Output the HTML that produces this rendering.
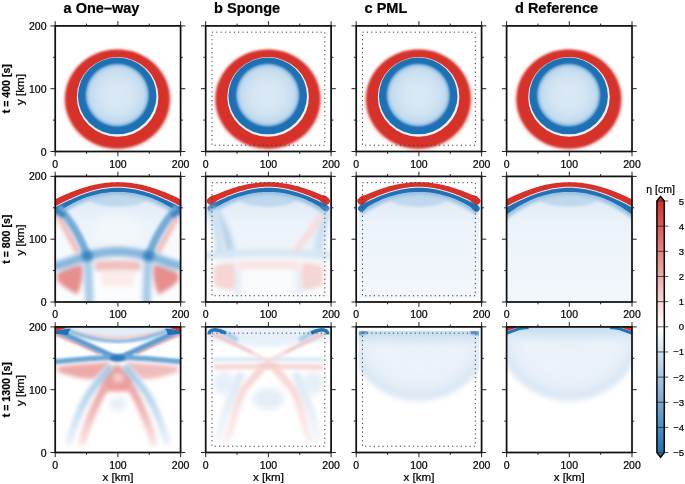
<!DOCTYPE html>
<html><head><meta charset="utf-8"><style>
html,body{margin:0;padding:0;background:#fff;width:685px;height:484px;overflow:hidden;}
svg{display:block;will-change:transform;}
</style></head><body>
<svg width="685" height="484" viewBox="0 0 685 484">
<defs>
<filter id="b03" x="-20%" y="-20%" width="140%" height="140%"><feGaussianBlur stdDeviation="0.35"/></filter>
<filter id="b09" x="-20%" y="-20%" width="140%" height="140%"><feGaussianBlur stdDeviation="0.9"/></filter>
<filter id="b13" x="-20%" y="-20%" width="140%" height="140%"><feGaussianBlur stdDeviation="1.3"/></filter>
<filter id="b05" x="-20%" y="-20%" width="140%" height="140%"><feGaussianBlur stdDeviation="0.55"/></filter>
<filter id="b1" x="-20%" y="-20%" width="140%" height="140%"><feGaussianBlur stdDeviation="1.0"/></filter>
<filter id="b12" x="-30%" y="-30%" width="160%" height="160%"><feGaussianBlur stdDeviation="1.2"/></filter>
<filter id="b15" x="-30%" y="-30%" width="160%" height="160%"><feGaussianBlur stdDeviation="1.5"/></filter>
<filter id="b17" x="-30%" y="-30%" width="160%" height="160%"><feGaussianBlur stdDeviation="1.7"/></filter>
<filter id="b2" x="-30%" y="-30%" width="160%" height="160%"><feGaussianBlur stdDeviation="2.0"/></filter>
<filter id="b3" x="-30%" y="-30%" width="160%" height="160%"><feGaussianBlur stdDeviation="3.0"/></filter>
<filter id="b5" x="-50%" y="-50%" width="200%" height="200%"><feGaussianBlur stdDeviation="5.0"/></filter>
<radialGradient id="ring" cx="0.5" cy="0.5" r="0.5">
  <stop offset="0" stop-color="#d9e8f4"/>
  <stop offset="0.30" stop-color="#d2e3f1"/>
  <stop offset="0.46" stop-color="#b3d1e8"/>
  <stop offset="0.55" stop-color="#5d9cce"/>
  <stop offset="0.60" stop-color="#2473b6"/>
  <stop offset="0.71" stop-color="#1f70b4"/>
  <stop offset="0.728" stop-color="#f4f4f4"/>
  <stop offset="0.745" stop-color="#d7302a"/>
  <stop offset="0.90" stop-color="#d7302a"/>
  <stop offset="0.95" stop-color="#eea29b"/>
  <stop offset="1" stop-color="#ffffff" stop-opacity="0"/>
</radialGradient>
<radialGradient id="inner1" cx="0.5" cy="0.5" r="0.5">
  <stop offset="0" stop-color="#dbe9f5"/>
  <stop offset="0.5" stop-color="#d4e5f2"/>
  <stop offset="0.8" stop-color="#c3dbef"/>
  <stop offset="0.88" stop-color="#a6cae7"/>
  <stop offset="0.93" stop-color="#6aa3d3"/>
  <stop offset="0.97" stop-color="#2a77b8"/>
  <stop offset="1" stop-color="#2171b5"/>
</radialGradient>
<linearGradient id="interior" gradientUnits="userSpaceOnUse" x1="0" y1="10" x2="0" y2="126">
  <stop offset="0" stop-color="#d4e5f3"/>
  <stop offset="0.13" stop-color="#e2ecf7"/>
  <stop offset="0.35" stop-color="#ecf3fa"/>
  <stop offset="1" stop-color="#f2f7fb"/>
</linearGradient>
<linearGradient id="redfade" x1="0" y1="0" x2="0" y2="1">
  <stop offset="0" stop-color="#eca3a2"/><stop offset="0.5" stop-color="#f1bcbb"/><stop offset="1" stop-color="#fae8e8"/>
</linearGradient>
<linearGradient id="bluefade" x1="0" y1="0" x2="0" y2="1">
  <stop offset="0" stop-color="#9fc7e6"/><stop offset="0.5" stop-color="#bfd9ee"/><stop offset="1" stop-color="#eaf2f9"/>
</linearGradient>
<linearGradient id="redfade2" x1="0" y1="0" x2="0" y2="1">
  <stop offset="0" stop-color="#f5d0cf"/><stop offset="0.5" stop-color="#f8dedd"/><stop offset="1" stop-color="#fcf1f1"/>
</linearGradient>
<linearGradient id="bluefade2" x1="0" y1="0" x2="0" y2="1">
  <stop offset="0" stop-color="#dbe9f5"/><stop offset="0.5" stop-color="#e4eef8"/><stop offset="1" stop-color="#f4f8fc"/>
</linearGradient>
<radialGradient id="bowl" cx="0.5" cy="0.5" r="0.5">
  <stop offset="0" stop-color="#e6eff8"/>
  <stop offset="0.55" stop-color="#edf3fa"/>
  <stop offset="0.78" stop-color="#e6eff8"/>
  <stop offset="0.9" stop-color="#d9e7f4"/>
  <stop offset="0.96" stop-color="#e6eff8"/>
  <stop offset="1" stop-color="#ffffff" stop-opacity="0"/>
</radialGradient>
<linearGradient id="topstrip" x1="0" y1="0" x2="0" y2="1">
  <stop offset="0" stop-color="#c6dcef"/>
  <stop offset="0.35" stop-color="#cfe2f1"/>
  <stop offset="1" stop-color="#e4eef7" stop-opacity="0"/>
</linearGradient>
<linearGradient id="interior3" x1="0" y1="0" x2="0" y2="1">
  <stop offset="0" stop-color="#e9f2f9"/>
  <stop offset="1" stop-color="#e6f0f8"/>
</linearGradient>
<clipPath id="cp00"><rect x="55.2" y="25.9" width="125.4" height="125.6"/></clipPath><clipPath id="cp01"><rect x="205.7" y="25.9" width="125.4" height="125.6"/></clipPath><clipPath id="cp02"><rect x="356.2" y="25.9" width="125.4" height="125.6"/></clipPath><clipPath id="cp03"><rect x="506.6" y="25.9" width="125.4" height="125.6"/></clipPath><clipPath id="cp10"><rect x="55.2" y="176.4" width="125.4" height="125.6"/></clipPath><clipPath id="cp11"><rect x="205.7" y="176.4" width="125.4" height="125.6"/></clipPath><clipPath id="cp12"><rect x="356.2" y="176.4" width="125.4" height="125.6"/></clipPath><clipPath id="cp13"><rect x="506.6" y="176.4" width="125.4" height="125.6"/></clipPath><clipPath id="cp20"><rect x="55.2" y="326.9" width="125.4" height="125.6"/></clipPath><clipPath id="cp21"><rect x="205.7" y="326.9" width="125.4" height="125.6"/></clipPath><clipPath id="cp22"><rect x="356.2" y="326.9" width="125.4" height="125.6"/></clipPath><clipPath id="cp23"><rect x="506.6" y="326.9" width="125.4" height="125.6"/></clipPath><clipPath id="cppml"><rect x="2.6" y="3.8" width="120.2" height="118.0"/></clipPath><clipPath id="cprel"><rect x="6.27" y="6.27" width="112.86000000000001" height="113.06"/></clipPath><clipPath id="cpi0"><rect x="362.46999999999997" y="32.17" width="112.86000000000001" height="113.06"/></clipPath><clipPath id="cpi1"><rect x="362.46999999999997" y="182.67000000000002" width="112.86000000000001" height="113.06"/></clipPath><clipPath id="cpi2"><rect x="362.46999999999997" y="333.16999999999996" width="112.86000000000001" height="113.06"/></clipPath><linearGradient id="cbg" x1="0" y1="0" x2="0" y2="1"><stop offset="0" stop-color="#d7302a"/><stop offset="0.5" stop-color="#ffffff"/><stop offset="1" stop-color="#2171b5"/></linearGradient></defs>
<rect width="685" height="484" fill="#fff"/>
<g clip-path="url(#cp00)"><g><g transform="translate(55.2,25.9)"><ellipse cx="62.2" cy="74.0" rx="52.2" ry="48.6" fill="#e47d77" filter="url(#b2)" opacity="0.8"/>
<ellipse cx="62.2" cy="73.1" rx="52.2" ry="49.4" fill="#d7302a" filter="url(#b09)"/>
<ellipse cx="62.4" cy="71.0" rx="40.8" ry="39.8" fill="#f3f0f1" filter="url(#b05)"/>
<ellipse cx="62.0" cy="70.0" rx="39.3" ry="38.4" fill="#1f71b5" filter="url(#b03)"/>
<ellipse cx="62.0" cy="69.2" rx="33.4" ry="33.2" fill="url(#inner1)"/></g></g></g>
<g clip-path="url(#cp01)"><g><g transform="translate(205.7,25.9)"><ellipse cx="62.2" cy="74.0" rx="52.2" ry="48.6" fill="#e47d77" filter="url(#b2)" opacity="0.8"/>
<ellipse cx="62.2" cy="73.1" rx="52.2" ry="49.4" fill="#d7302a" filter="url(#b09)"/>
<ellipse cx="62.4" cy="71.0" rx="40.8" ry="39.8" fill="#f3f0f1" filter="url(#b05)"/>
<ellipse cx="62.0" cy="70.0" rx="39.3" ry="38.4" fill="#1f71b5" filter="url(#b03)"/>
<ellipse cx="62.0" cy="69.2" rx="33.4" ry="33.2" fill="url(#inner1)"/></g></g></g>
<g clip-path="url(#cp02)"><g><g transform="translate(356.2,25.9)"><ellipse cx="62.2" cy="74.0" rx="52.2" ry="48.6" fill="#e47d77" filter="url(#b2)" opacity="0.8"/>
<ellipse cx="62.2" cy="73.1" rx="52.2" ry="49.4" fill="#d7302a" filter="url(#b09)"/>
<ellipse cx="62.4" cy="71.0" rx="40.8" ry="39.8" fill="#f3f0f1" filter="url(#b05)"/>
<ellipse cx="62.0" cy="70.0" rx="39.3" ry="38.4" fill="#1f71b5" filter="url(#b03)"/>
<ellipse cx="62.0" cy="69.2" rx="33.4" ry="33.2" fill="url(#inner1)"/></g></g></g>
<g clip-path="url(#cp03)"><g><g transform="translate(506.6,25.9)"><ellipse cx="62.2" cy="74.0" rx="52.2" ry="48.6" fill="#e47d77" filter="url(#b2)" opacity="0.8"/>
<ellipse cx="62.2" cy="73.1" rx="52.2" ry="49.4" fill="#d7302a" filter="url(#b09)"/>
<ellipse cx="62.4" cy="71.0" rx="40.8" ry="39.8" fill="#f3f0f1" filter="url(#b05)"/>
<ellipse cx="62.0" cy="70.0" rx="39.3" ry="38.4" fill="#1f71b5" filter="url(#b03)"/>
<ellipse cx="62.0" cy="69.2" rx="33.4" ry="33.2" fill="url(#inner1)"/></g></g></g>
<g clip-path="url(#cp10)"><g><g transform="translate(55.2,176.4)"><g>
<path d="M-3.00,31.94 L-0.95,30.88 L1.11,29.81 L3.16,28.76 L5.21,27.72 L7.27,26.68 L9.32,25.67 L11.37,24.67 L13.43,23.70 L15.48,22.75 L17.53,21.82 L19.58,20.92 L21.64,20.05 L23.69,19.20 L25.74,18.40 L27.80,17.62 L29.85,16.88 L31.90,16.18 L33.96,15.52 L36.01,14.90 L38.06,14.32 L40.12,13.78 L42.17,13.28 L44.22,12.83 L46.28,12.42 L48.33,12.06 L50.38,11.75 L52.43,11.48 L54.49,11.26 L56.54,11.09 L58.59,10.97 L60.65,10.90 L62.70,10.88 L64.75,10.90 L66.81,10.97 L68.86,11.09 L70.91,11.26 L72.97,11.48 L75.02,11.75 L77.07,12.06 L79.12,12.42 L81.18,12.83 L83.23,13.28 L85.28,13.78 L87.34,14.32 L89.39,14.90 L91.44,15.52 L93.50,16.18 L95.55,16.88 L97.60,17.62 L99.66,18.40 L101.71,19.20 L103.76,20.05 L105.82,20.92 L107.87,21.82 L109.92,22.75 L111.98,23.70 L114.03,24.67 L116.08,25.67 L118.13,26.68 L120.19,27.72 L122.24,28.76 L124.29,29.81 L126.35,30.88 L128.40,31.94 L128.40,130.60 L126.35,130.60 L124.29,130.60 L122.24,130.60 L120.19,130.60 L118.13,130.60 L116.08,130.60 L114.03,130.60 L111.98,130.60 L109.92,130.60 L107.87,130.60 L105.82,130.60 L103.76,130.60 L101.71,130.60 L99.66,130.60 L97.60,130.60 L95.55,130.60 L93.50,130.60 L91.44,130.60 L89.39,130.60 L87.34,130.60 L85.28,130.60 L83.23,130.60 L81.18,130.60 L79.12,130.60 L77.07,130.60 L75.02,130.60 L72.97,130.60 L70.91,130.60 L68.86,130.60 L66.81,130.60 L64.75,130.60 L62.70,130.60 L60.65,130.60 L58.59,130.60 L56.54,130.60 L54.49,130.60 L52.43,130.60 L50.38,130.60 L48.33,130.60 L46.28,130.60 L44.22,130.60 L42.17,130.60 L40.12,130.60 L38.06,130.60 L36.01,130.60 L33.96,130.60 L31.90,130.60 L29.85,130.60 L27.80,130.60 L25.74,130.60 L23.69,130.60 L21.64,130.60 L19.58,130.60 L17.53,130.60 L15.48,130.60 L13.43,130.60 L11.37,130.60 L9.32,130.60 L7.27,130.60 L5.21,130.60 L3.16,130.60 L1.11,130.60 L-0.95,130.60 L-3.00,130.60Z" fill="url(#interior)"/>
<ellipse cx="62.5" cy="22.5" rx="28" ry="7.8" fill="#c0d8ed" filter="url(#b15)"/>
</g>
<path d="M-3.00,42.92 L-0.95,41.25 L1.11,39.65 L3.16,38.11 L5.21,36.64 L7.27,35.24 L9.32,33.89 L11.37,32.61 L13.43,31.39 L15.48,30.22 L17.53,29.12 L19.58,28.07 L21.64,27.07 L23.69,26.13 L25.74,25.25 L27.80,24.41 L29.85,23.63 L31.90,22.90 L33.96,22.22 L36.01,21.59 L38.06,21.01 L40.12,20.48 L42.17,20.00 L44.22,19.56 L46.28,19.17 L48.33,18.83 L50.38,18.54 L52.43,18.29 L54.49,18.08 L56.54,17.92 L58.59,17.81 L60.65,17.74 L62.70,17.72 L64.75,17.74 L66.81,17.81 L68.86,17.92 L70.91,18.08 L72.97,18.29 L75.02,18.54 L77.07,18.83 L79.12,19.17 L81.18,19.56 L83.23,20.00 L85.28,20.48 L87.34,21.01 L89.39,21.59 L91.44,22.22 L93.50,22.90 L95.55,23.63 L97.60,24.41 L99.66,25.25 L101.71,26.13 L103.76,27.07 L105.82,28.07 L107.87,29.12 L109.92,30.22 L111.98,31.39 L114.03,32.61 L116.08,33.89 L118.13,35.24 L120.19,36.64 L122.24,38.11 L124.29,39.65 L126.35,41.25 L128.40,42.92" fill="none" stroke="#b0cfe9" stroke-width="4.5" filter="url(#b17)"/>
<path d="M-3.00,41.52 L-0.95,39.85 L1.11,38.25 L3.16,36.71 L5.21,35.24 L7.27,33.84 L9.32,32.49 L11.37,31.21 L13.43,29.99 L15.48,28.82 L17.53,27.72 L19.58,26.67 L21.64,25.67 L23.69,24.73 L25.74,23.85 L27.80,23.01 L29.85,22.23 L31.90,21.50 L33.96,20.82 L36.01,20.19 L38.06,19.61 L40.12,19.08 L42.17,18.60 L44.22,18.16 L46.28,17.77 L48.33,17.43 L50.38,17.14 L52.43,16.89 L54.49,16.68 L56.54,16.52 L58.59,16.41 L60.65,16.34 L62.70,16.32 L64.75,16.34 L66.81,16.41 L68.86,16.52 L70.91,16.68 L72.97,16.89 L75.02,17.14 L77.07,17.43 L79.12,17.77 L81.18,18.16 L83.23,18.60 L85.28,19.08 L87.34,19.61 L89.39,20.19 L91.44,20.82 L93.50,21.50 L95.55,22.23 L97.60,23.01 L99.66,23.85 L101.71,24.73 L103.76,25.67 L105.82,26.67 L107.87,27.72 L109.92,28.82 L111.98,29.99 L114.03,31.21 L116.08,32.49 L118.13,33.84 L120.19,35.24 L122.24,36.71 L124.29,38.25 L126.35,39.85 L128.40,41.52" fill="none" stroke="#8ab9df" stroke-width="2" filter="url(#b1)"/>
<g filter="url(#b05)">
<path d="M-3.00,24.22 L-0.95,23.24 L1.11,22.28 L3.16,21.32 L5.21,20.38 L7.27,19.46 L9.32,18.56 L11.37,17.67 L13.43,16.81 L15.48,15.97 L17.53,15.16 L19.58,14.37 L21.64,13.61 L23.69,12.87 L25.74,12.17 L27.80,11.50 L29.85,10.86 L31.90,10.26 L33.96,9.69 L36.01,9.15 L38.06,8.65 L40.12,8.19 L42.17,7.77 L44.22,7.38 L46.28,7.04 L48.33,6.73 L50.38,6.46 L52.43,6.23 L54.49,6.05 L56.54,5.90 L58.59,5.80 L60.65,5.74 L62.70,5.72 L64.75,5.74 L66.81,5.80 L68.86,5.90 L70.91,6.05 L72.97,6.23 L75.02,6.46 L77.07,6.73 L79.12,7.04 L81.18,7.38 L83.23,7.77 L85.28,8.19 L87.34,8.65 L89.39,9.15 L91.44,9.69 L93.50,10.26 L95.55,10.86 L97.60,11.50 L99.66,12.17 L101.71,12.87 L103.76,13.61 L105.82,14.37 L107.87,15.16 L109.92,15.97 L111.98,16.81 L114.03,17.67 L116.08,18.56 L118.13,19.46 L120.19,20.38 L122.24,21.32 L124.29,22.28 L126.35,23.24 L128.40,24.22 L128.40,31.44 L126.35,30.38 L124.29,29.31 L122.24,28.26 L120.19,27.22 L118.13,26.18 L116.08,25.17 L114.03,24.17 L111.98,23.20 L109.92,22.25 L107.87,21.32 L105.82,20.42 L103.76,19.55 L101.71,18.70 L99.66,17.90 L97.60,17.12 L95.55,16.38 L93.50,15.68 L91.44,15.02 L89.39,14.40 L87.34,13.82 L85.28,13.28 L83.23,12.78 L81.18,12.33 L79.12,11.92 L77.07,11.56 L75.02,11.25 L72.97,10.98 L70.91,10.76 L68.86,10.59 L66.81,10.47 L64.75,10.40 L62.70,10.38 L60.65,10.40 L58.59,10.47 L56.54,10.59 L54.49,10.76 L52.43,10.98 L50.38,11.25 L48.33,11.56 L46.28,11.92 L44.22,12.33 L42.17,12.78 L40.12,13.28 L38.06,13.82 L36.01,14.40 L33.96,15.02 L31.90,15.68 L29.85,16.38 L27.80,17.12 L25.74,17.90 L23.69,18.70 L21.64,19.55 L19.58,20.42 L17.53,21.32 L15.48,22.25 L13.43,23.20 L11.37,24.17 L9.32,25.17 L7.27,26.18 L5.21,27.22 L3.16,28.26 L1.11,29.31 L-0.95,30.38 L-3.00,31.44Z" fill="#d7302a"/>
<path d="M-3.00,32.44 L-0.95,31.38 L1.11,30.31 L3.16,29.26 L5.21,28.22 L7.27,27.18 L9.32,26.17 L11.37,25.17 L13.43,24.20 L15.48,23.25 L17.53,22.32 L19.58,21.42 L21.64,20.55 L23.69,19.70 L25.74,18.90 L27.80,18.12 L29.85,17.38 L31.90,16.68 L33.96,16.02 L36.01,15.40 L38.06,14.82 L40.12,14.28 L42.17,13.78 L44.22,13.33 L46.28,12.92 L48.33,12.56 L50.38,12.25 L52.43,11.98 L54.49,11.76 L56.54,11.59 L58.59,11.47 L60.65,11.40 L62.70,11.38 L64.75,11.40 L66.81,11.47 L68.86,11.59 L70.91,11.76 L72.97,11.98 L75.02,12.25 L77.07,12.56 L79.12,12.92 L81.18,13.33 L83.23,13.78 L85.28,14.28 L87.34,14.82 L89.39,15.40 L91.44,16.02 L93.50,16.68 L95.55,17.38 L97.60,18.12 L99.66,18.90 L101.71,19.70 L103.76,20.55 L105.82,21.42 L107.87,22.32 L109.92,23.25 L111.98,24.20 L114.03,25.17 L116.08,26.17 L118.13,27.18 L120.19,28.22 L122.24,29.26 L124.29,30.31 L126.35,31.38 L128.40,32.44 L128.40,40.72 L126.35,39.05 L124.29,37.45 L122.24,35.91 L120.19,34.44 L118.13,33.04 L116.08,31.69 L114.03,30.41 L111.98,29.19 L109.92,28.02 L107.87,26.92 L105.82,25.87 L103.76,24.87 L101.71,23.93 L99.66,23.05 L97.60,22.21 L95.55,21.43 L93.50,20.70 L91.44,20.02 L89.39,19.39 L87.34,18.81 L85.28,18.28 L83.23,17.80 L81.18,17.36 L79.12,16.97 L77.07,16.63 L75.02,16.34 L72.97,16.09 L70.91,15.88 L68.86,15.72 L66.81,15.61 L64.75,15.54 L62.70,15.52 L60.65,15.54 L58.59,15.61 L56.54,15.72 L54.49,15.88 L52.43,16.09 L50.38,16.34 L48.33,16.63 L46.28,16.97 L44.22,17.36 L42.17,17.80 L40.12,18.28 L38.06,18.81 L36.01,19.39 L33.96,20.02 L31.90,20.70 L29.85,21.43 L27.80,22.21 L25.74,23.05 L23.69,23.93 L21.64,24.87 L19.58,25.87 L17.53,26.92 L15.48,28.02 L13.43,29.19 L11.37,30.41 L9.32,31.69 L7.27,33.04 L5.21,34.44 L3.16,35.91 L1.11,37.45 L-0.95,39.05 L-3.00,40.72Z" fill="#2171b5"/>
</g>
<ellipse cx="62.7" cy="54" rx="24" ry="15" fill="#f3f7fb" filter="url(#b5)"/>
<g filter="url(#b3)">
<path d="M-3,36 C6,44 16,60 24,80 L-3,90 Z" fill="#f7fafd"/>
<path d="M128.4,36 C119.4,44 109.4,60 101.4,80 L128.4,90 Z" fill="#f7fafd"/>
<path d="M-3,95 L128.4,95 L128.4,130 L-3,130 Z" fill="#fafcfe"/>
</g>
<g filter="url(#b2)">
<path d="M2,97 C8,93 18,89 27,88 C29,95 27,108 22,118 C14,114 5,108 2,104 Z" fill="#e68f8d"/>
<path d="M123.4,97 C117.4,93 107.4,89 98.4,88 C96.4,95 98.4,108 103.4,118 C111.4,114 120.4,108 123.4,104 Z" fill="#e68f8d"/>
<path d="M41,85 C55,84 70,84 84.4,85 C86,88 86,92 84.4,94 C70,93 55,93 41,94 C39,92 39,88 41,85 Z" fill="#f1bebd"/>
<path d="M45,94 L80.4,94 L78,110 L47,110 Z" fill="#fbeceb"/>
<path d="M4.5,41 C9,50 16,62 22,74" fill="none" stroke="#f0bbb9" stroke-width="6" stroke-linecap="round"/><path d="M120.90,41 C116.40,50 109.40,62 103.40,74" fill="none" stroke="#f0bbb9" stroke-width="6" stroke-linecap="round"/>
</g>
<g filter="url(#b2)" fill="none">
<path d="M32,79.5 C33,95 34,110 34,128" stroke="#a8cbe7" stroke-width="8.5"/><path d="M93.40,79.5 C92.40,95 91.40,110 91.40,128" stroke="#a8cbe7" stroke-width="8.5"/>
<path d="M-2,90 C10,88 22,82 32,79.5 C45,76 55,75 62.7,75 C70,75 80,76 93.4,79.5 C103,82 115,88 127.4,90" stroke="#86b6dd" stroke-width="9"/>
</g>
<g filter="url(#b17)" fill="none">
<path d="M3,31 C12,40 25,58 32,79.5" stroke="#74abd8" stroke-width="7.5"/><path d="M122.40,31 C113.40,40 100.40,58 93.40,79.5" stroke="#74abd8" stroke-width="7.5"/>
<path d="M0,33 C3,35 6,37 9,40" stroke="#3f87c4" stroke-width="6"/><path d="M125.40,33 C122.40,35 119.40,37 116.40,40" stroke="#3f87c4" stroke-width="6"/>
</g>
<g filter="url(#b2)">
<ellipse cx="32" cy="79.5" rx="5.5" ry="5" fill="#3a82c1"/><ellipse cx="93.40" cy="79.5" rx="5.5" ry="5" fill="#3a82c1"/>
</g></g></g></g>
<g clip-path="url(#cp11)"><g><g transform="translate(205.7,176.4)"><g>
<path d="M-3.00,31.94 L-0.95,30.88 L1.11,29.81 L3.16,28.76 L5.21,27.72 L7.27,26.68 L9.32,25.67 L11.37,24.67 L13.43,23.70 L15.48,22.75 L17.53,21.82 L19.58,20.92 L21.64,20.05 L23.69,19.20 L25.74,18.40 L27.80,17.62 L29.85,16.88 L31.90,16.18 L33.96,15.52 L36.01,14.90 L38.06,14.32 L40.12,13.78 L42.17,13.28 L44.22,12.83 L46.28,12.42 L48.33,12.06 L50.38,11.75 L52.43,11.48 L54.49,11.26 L56.54,11.09 L58.59,10.97 L60.65,10.90 L62.70,10.88 L64.75,10.90 L66.81,10.97 L68.86,11.09 L70.91,11.26 L72.97,11.48 L75.02,11.75 L77.07,12.06 L79.12,12.42 L81.18,12.83 L83.23,13.28 L85.28,13.78 L87.34,14.32 L89.39,14.90 L91.44,15.52 L93.50,16.18 L95.55,16.88 L97.60,17.62 L99.66,18.40 L101.71,19.20 L103.76,20.05 L105.82,20.92 L107.87,21.82 L109.92,22.75 L111.98,23.70 L114.03,24.67 L116.08,25.67 L118.13,26.68 L120.19,27.72 L122.24,28.76 L124.29,29.81 L126.35,30.88 L128.40,31.94 L128.40,130.60 L126.35,130.60 L124.29,130.60 L122.24,130.60 L120.19,130.60 L118.13,130.60 L116.08,130.60 L114.03,130.60 L111.98,130.60 L109.92,130.60 L107.87,130.60 L105.82,130.60 L103.76,130.60 L101.71,130.60 L99.66,130.60 L97.60,130.60 L95.55,130.60 L93.50,130.60 L91.44,130.60 L89.39,130.60 L87.34,130.60 L85.28,130.60 L83.23,130.60 L81.18,130.60 L79.12,130.60 L77.07,130.60 L75.02,130.60 L72.97,130.60 L70.91,130.60 L68.86,130.60 L66.81,130.60 L64.75,130.60 L62.70,130.60 L60.65,130.60 L58.59,130.60 L56.54,130.60 L54.49,130.60 L52.43,130.60 L50.38,130.60 L48.33,130.60 L46.28,130.60 L44.22,130.60 L42.17,130.60 L40.12,130.60 L38.06,130.60 L36.01,130.60 L33.96,130.60 L31.90,130.60 L29.85,130.60 L27.80,130.60 L25.74,130.60 L23.69,130.60 L21.64,130.60 L19.58,130.60 L17.53,130.60 L15.48,130.60 L13.43,130.60 L11.37,130.60 L9.32,130.60 L7.27,130.60 L5.21,130.60 L3.16,130.60 L1.11,130.60 L-0.95,130.60 L-3.00,130.60Z" fill="url(#interior)"/>
<ellipse cx="62.5" cy="22.5" rx="28" ry="7.8" fill="#c0d8ed" filter="url(#b15)"/>
</g>
<path d="M5.00,36.79 L6.80,35.55 L8.61,34.35 L10.41,33.20 L12.21,32.10 L14.02,31.05 L15.82,30.04 L17.62,29.07 L19.43,28.15 L21.23,27.27 L23.03,26.43 L24.83,25.63 L26.64,24.88 L28.44,24.16 L30.24,23.49 L32.05,22.85 L33.85,22.26 L35.65,21.70 L37.46,21.18 L39.26,20.70 L41.06,20.25 L42.87,19.85 L44.67,19.47 L46.47,19.14 L48.28,18.84 L50.08,18.58 L51.88,18.35 L53.68,18.16 L55.49,18.00 L57.29,17.88 L59.09,17.79 L60.90,17.74 L62.70,17.72 L64.50,17.74 L66.31,17.79 L68.11,17.88 L69.91,18.00 L71.72,18.16 L73.52,18.35 L75.32,18.58 L77.12,18.84 L78.93,19.14 L80.73,19.47 L82.53,19.85 L84.34,20.25 L86.14,20.70 L87.94,21.18 L89.75,21.70 L91.55,22.26 L93.35,22.85 L95.16,23.49 L96.96,24.16 L98.76,24.88 L100.57,25.63 L102.37,26.43 L104.17,27.27 L105.98,28.15 L107.78,29.07 L109.58,30.04 L111.38,31.05 L113.19,32.10 L114.99,33.20 L116.79,34.35 L118.60,35.55 L120.40,36.79" fill="none" stroke="#b0cfe9" stroke-width="4.5" filter="url(#b17)"/>
<path d="M5.00,35.39 L6.80,34.15 L8.61,32.95 L10.41,31.80 L12.21,30.70 L14.02,29.65 L15.82,28.64 L17.62,27.67 L19.43,26.75 L21.23,25.87 L23.03,25.03 L24.83,24.23 L26.64,23.48 L28.44,22.76 L30.24,22.09 L32.05,21.45 L33.85,20.86 L35.65,20.30 L37.46,19.78 L39.26,19.30 L41.06,18.85 L42.87,18.45 L44.67,18.07 L46.47,17.74 L48.28,17.44 L50.08,17.18 L51.88,16.95 L53.68,16.76 L55.49,16.60 L57.29,16.48 L59.09,16.39 L60.90,16.34 L62.70,16.32 L64.50,16.34 L66.31,16.39 L68.11,16.48 L69.91,16.60 L71.72,16.76 L73.52,16.95 L75.32,17.18 L77.12,17.44 L78.93,17.74 L80.73,18.07 L82.53,18.45 L84.34,18.85 L86.14,19.30 L87.94,19.78 L89.75,20.30 L91.55,20.86 L93.35,21.45 L95.16,22.09 L96.96,22.76 L98.76,23.48 L100.57,24.23 L102.37,25.03 L104.17,25.87 L105.98,26.75 L107.78,27.67 L109.58,28.64 L111.38,29.65 L113.19,30.70 L114.99,31.80 L116.79,32.95 L118.60,34.15 L120.40,35.39" fill="none" stroke="#8ab9df" stroke-width="2" filter="url(#b1)"/>
<g filter="url(#b05)">
<path d="M5.00,20.48 L6.80,19.67 L8.61,18.87 L10.41,18.08 L12.21,17.32 L14.02,16.57 L15.82,15.83 L17.62,15.12 L19.43,14.43 L21.23,13.76 L23.03,13.11 L24.83,12.48 L26.64,11.88 L28.44,11.30 L30.24,10.74 L32.05,10.22 L33.85,9.72 L35.65,9.24 L37.46,8.80 L39.26,8.38 L41.06,7.99 L42.87,7.63 L44.67,7.30 L46.47,7.00 L48.28,6.74 L50.08,6.50 L51.88,6.29 L53.68,6.12 L55.49,5.97 L57.29,5.86 L59.09,5.78 L60.90,5.73 L62.70,5.72 L64.50,5.73 L66.31,5.78 L68.11,5.86 L69.91,5.97 L71.72,6.12 L73.52,6.29 L75.32,6.50 L77.12,6.74 L78.93,7.00 L80.73,7.30 L82.53,7.63 L84.34,7.99 L86.14,8.38 L87.94,8.80 L89.75,9.24 L91.55,9.72 L93.35,10.22 L95.16,10.74 L96.96,11.30 L98.76,11.88 L100.57,12.48 L102.37,13.11 L104.17,13.76 L105.98,14.43 L107.78,15.12 L109.58,15.83 L111.38,16.57 L113.19,17.32 L114.99,18.08 L116.79,18.87 L118.60,19.67 L120.40,20.48 L120.40,27.32 L118.60,26.42 L116.79,25.52 L114.99,24.64 L113.19,23.77 L111.38,22.92 L109.58,22.09 L107.78,21.28 L105.98,20.49 L104.17,19.72 L102.37,18.97 L100.57,18.25 L98.76,17.55 L96.96,16.89 L95.16,16.25 L93.35,15.63 L91.55,15.05 L89.75,14.50 L87.94,13.98 L86.14,13.50 L84.34,13.04 L82.53,12.62 L80.73,12.24 L78.93,11.89 L77.12,11.57 L75.32,11.29 L73.52,11.05 L71.72,10.84 L69.91,10.68 L68.11,10.54 L66.31,10.45 L64.50,10.39 L62.70,10.38 L60.90,10.39 L59.09,10.45 L57.29,10.54 L55.49,10.68 L53.68,10.84 L51.88,11.05 L50.08,11.29 L48.28,11.57 L46.47,11.89 L44.67,12.24 L42.87,12.62 L41.06,13.04 L39.26,13.50 L37.46,13.98 L35.65,14.50 L33.85,15.05 L32.05,15.63 L30.24,16.25 L28.44,16.89 L26.64,17.55 L24.83,18.25 L23.03,18.97 L21.23,19.72 L19.43,20.49 L17.62,21.28 L15.82,22.09 L14.02,22.92 L12.21,23.77 L10.41,24.64 L8.61,25.52 L6.80,26.42 L5.00,27.32Z" fill="#d7302a"/>
<path d="M5.00,28.32 L6.80,27.42 L8.61,26.52 L10.41,25.64 L12.21,24.77 L14.02,23.92 L15.82,23.09 L17.62,22.28 L19.43,21.49 L21.23,20.72 L23.03,19.97 L24.83,19.25 L26.64,18.55 L28.44,17.89 L30.24,17.25 L32.05,16.63 L33.85,16.05 L35.65,15.50 L37.46,14.98 L39.26,14.50 L41.06,14.04 L42.87,13.62 L44.67,13.24 L46.47,12.89 L48.28,12.57 L50.08,12.29 L51.88,12.05 L53.68,11.84 L55.49,11.68 L57.29,11.54 L59.09,11.45 L60.90,11.39 L62.70,11.38 L64.50,11.39 L66.31,11.45 L68.11,11.54 L69.91,11.68 L71.72,11.84 L73.52,12.05 L75.32,12.29 L77.12,12.57 L78.93,12.89 L80.73,13.24 L82.53,13.62 L84.34,14.04 L86.14,14.50 L87.94,14.98 L89.75,15.50 L91.55,16.05 L93.35,16.63 L95.16,17.25 L96.96,17.89 L98.76,18.55 L100.57,19.25 L102.37,19.97 L104.17,20.72 L105.98,21.49 L107.78,22.28 L109.58,23.09 L111.38,23.92 L113.19,24.77 L114.99,25.64 L116.79,26.52 L118.60,27.42 L120.40,28.32 L120.40,34.59 L118.60,33.35 L116.79,32.15 L114.99,31.00 L113.19,29.90 L111.38,28.85 L109.58,27.84 L107.78,26.87 L105.98,25.95 L104.17,25.07 L102.37,24.23 L100.57,23.43 L98.76,22.68 L96.96,21.96 L95.16,21.29 L93.35,20.65 L91.55,20.06 L89.75,19.50 L87.94,18.98 L86.14,18.50 L84.34,18.05 L82.53,17.65 L80.73,17.27 L78.93,16.94 L77.12,16.64 L75.32,16.38 L73.52,16.15 L71.72,15.96 L69.91,15.80 L68.11,15.68 L66.31,15.59 L64.50,15.54 L62.70,15.52 L60.90,15.54 L59.09,15.59 L57.29,15.68 L55.49,15.80 L53.68,15.96 L51.88,16.15 L50.08,16.38 L48.28,16.64 L46.47,16.94 L44.67,17.27 L42.87,17.65 L41.06,18.05 L39.26,18.50 L37.46,18.98 L35.65,19.50 L33.85,20.06 L32.05,20.65 L30.24,21.29 L28.44,21.96 L26.64,22.68 L24.83,23.43 L23.03,24.23 L21.23,25.07 L19.43,25.95 L17.62,26.87 L15.82,27.84 L14.02,28.85 L12.21,29.90 L10.41,31.00 L8.61,32.15 L6.80,33.35 L5.00,34.59Z" fill="#2171b5"/>
<path d="M7.50,22.76 L5.00,24.55" stroke="#d7302a" stroke-width="7.54" stroke-linecap="round" fill="none"/>
<path d="M7.50,30.12 L5.00,32.11" stroke="#2171b5" stroke-width="6.17" stroke-linecap="round" fill="none"/>
<path d="M117.90,22.76 L120.40,24.55" stroke="#d7302a" stroke-width="7.54" stroke-linecap="round" fill="none"/>
<path d="M117.90,30.12 L120.40,32.11" stroke="#2171b5" stroke-width="6.17" stroke-linecap="round" fill="none"/>
</g>
<g filter="url(#b3)">
<path d="M-3,40 C4,48 12,60 18,76 L-3,80 Z" fill="#f8fbfd"/><path d="M128.40,40 C121.40,48 113.40,60 107.40,76 L128.40,80 Z" fill="#f8fbfd"/>
<path d="M-3,42 L4,42 L4,130 L-3,130 Z" fill="#fbfcfe"/><path d="M128.40,42 L121.40,42 L121.40,130 L128.40,130 Z" fill="#fbfcfe"/>
<path d="M-3,84 L128.4,84 L128.4,130 L-3,130 Z" fill="#f9fbfd"/>
</g>
<g filter="url(#b3)" fill="none">
<path d="M4,31 C10,38 17,48 21,60 C23,66 24,72 25,78" stroke="#a6c9e6" stroke-width="7"/>
<path d="M121,34 C118,45 114,60 112,80" stroke="#c3dbef" stroke-width="8"/>
<path d="M31,92 C32,100 32,110 32,120" stroke="#e1ecf6" stroke-width="7"/><path d="M94.40,92 C93.40,100 93.40,110 93.40,120" stroke="#e1ecf6" stroke-width="7"/>
</g>
<g filter="url(#b2)">
<path d="M-2,79 C20,77 45,76 62.7,76 C80,76 105,77 127.4,79" fill="none" stroke="#d6e6f3" stroke-width="7"/>
<path d="M8,90 C14,87 22,86 29,86 C30,95 30,105 29,113 C22,114 14,112 8,108 Z" fill="#f6d5d4"/><path d="M117.40,90 C111.40,87 103.40,86 96.40,86 C95.40,95 95.40,105 96.40,113 C103.40,114 111.40,112 117.40,108 Z" fill="#f6d5d4"/>
<path d="M32,85 C50,84 75,84 93.4,85 L93.4,93 C75,92 50,92 32,93 Z" fill="#f9e2e1"/>
<path d="M114.5,41 C108,51 100,62 92,72" fill="none" stroke="#f7dcdb" stroke-width="6.5" stroke-linecap="round"/>
<path d="M8,33 C10,40 12,50 13,60 C13.5,66 14,72 15,78" fill="none" stroke="#cfe2f1" stroke-width="9"/>
</g></g></g></g>
<g clip-path="url(#cp12)"><g><g transform="translate(356.2,176.4)"><g clip-path="url(#cppml)">
<path d="M-3.00,31.94 L-0.95,30.88 L1.11,29.81 L3.16,28.76 L5.21,27.72 L7.27,26.68 L9.32,25.67 L11.37,24.67 L13.43,23.70 L15.48,22.75 L17.53,21.82 L19.58,20.92 L21.64,20.05 L23.69,19.20 L25.74,18.40 L27.80,17.62 L29.85,16.88 L31.90,16.18 L33.96,15.52 L36.01,14.90 L38.06,14.32 L40.12,13.78 L42.17,13.28 L44.22,12.83 L46.28,12.42 L48.33,12.06 L50.38,11.75 L52.43,11.48 L54.49,11.26 L56.54,11.09 L58.59,10.97 L60.65,10.90 L62.70,10.88 L64.75,10.90 L66.81,10.97 L68.86,11.09 L70.91,11.26 L72.97,11.48 L75.02,11.75 L77.07,12.06 L79.12,12.42 L81.18,12.83 L83.23,13.28 L85.28,13.78 L87.34,14.32 L89.39,14.90 L91.44,15.52 L93.50,16.18 L95.55,16.88 L97.60,17.62 L99.66,18.40 L101.71,19.20 L103.76,20.05 L105.82,20.92 L107.87,21.82 L109.92,22.75 L111.98,23.70 L114.03,24.67 L116.08,25.67 L118.13,26.68 L120.19,27.72 L122.24,28.76 L124.29,29.81 L126.35,30.88 L128.40,31.94 L128.40,130.60 L126.35,130.60 L124.29,130.60 L122.24,130.60 L120.19,130.60 L118.13,130.60 L116.08,130.60 L114.03,130.60 L111.98,130.60 L109.92,130.60 L107.87,130.60 L105.82,130.60 L103.76,130.60 L101.71,130.60 L99.66,130.60 L97.60,130.60 L95.55,130.60 L93.50,130.60 L91.44,130.60 L89.39,130.60 L87.34,130.60 L85.28,130.60 L83.23,130.60 L81.18,130.60 L79.12,130.60 L77.07,130.60 L75.02,130.60 L72.97,130.60 L70.91,130.60 L68.86,130.60 L66.81,130.60 L64.75,130.60 L62.70,130.60 L60.65,130.60 L58.59,130.60 L56.54,130.60 L54.49,130.60 L52.43,130.60 L50.38,130.60 L48.33,130.60 L46.28,130.60 L44.22,130.60 L42.17,130.60 L40.12,130.60 L38.06,130.60 L36.01,130.60 L33.96,130.60 L31.90,130.60 L29.85,130.60 L27.80,130.60 L25.74,130.60 L23.69,130.60 L21.64,130.60 L19.58,130.60 L17.53,130.60 L15.48,130.60 L13.43,130.60 L11.37,130.60 L9.32,130.60 L7.27,130.60 L5.21,130.60 L3.16,130.60 L1.11,130.60 L-0.95,130.60 L-3.00,130.60Z" fill="url(#interior)"/>
<ellipse cx="62.5" cy="22.5" rx="28" ry="7.8" fill="#c0d8ed" filter="url(#b15)"/>
</g>
<path d="M5.00,36.79 L6.80,35.55 L8.61,34.35 L10.41,33.20 L12.21,32.10 L14.02,31.05 L15.82,30.04 L17.62,29.07 L19.43,28.15 L21.23,27.27 L23.03,26.43 L24.83,25.63 L26.64,24.88 L28.44,24.16 L30.24,23.49 L32.05,22.85 L33.85,22.26 L35.65,21.70 L37.46,21.18 L39.26,20.70 L41.06,20.25 L42.87,19.85 L44.67,19.47 L46.47,19.14 L48.28,18.84 L50.08,18.58 L51.88,18.35 L53.68,18.16 L55.49,18.00 L57.29,17.88 L59.09,17.79 L60.90,17.74 L62.70,17.72 L64.50,17.74 L66.31,17.79 L68.11,17.88 L69.91,18.00 L71.72,18.16 L73.52,18.35 L75.32,18.58 L77.12,18.84 L78.93,19.14 L80.73,19.47 L82.53,19.85 L84.34,20.25 L86.14,20.70 L87.94,21.18 L89.75,21.70 L91.55,22.26 L93.35,22.85 L95.16,23.49 L96.96,24.16 L98.76,24.88 L100.57,25.63 L102.37,26.43 L104.17,27.27 L105.98,28.15 L107.78,29.07 L109.58,30.04 L111.38,31.05 L113.19,32.10 L114.99,33.20 L116.79,34.35 L118.60,35.55 L120.40,36.79" fill="none" stroke="#b0cfe9" stroke-width="4.5" filter="url(#b17)"/>
<path d="M5.00,35.39 L6.80,34.15 L8.61,32.95 L10.41,31.80 L12.21,30.70 L14.02,29.65 L15.82,28.64 L17.62,27.67 L19.43,26.75 L21.23,25.87 L23.03,25.03 L24.83,24.23 L26.64,23.48 L28.44,22.76 L30.24,22.09 L32.05,21.45 L33.85,20.86 L35.65,20.30 L37.46,19.78 L39.26,19.30 L41.06,18.85 L42.87,18.45 L44.67,18.07 L46.47,17.74 L48.28,17.44 L50.08,17.18 L51.88,16.95 L53.68,16.76 L55.49,16.60 L57.29,16.48 L59.09,16.39 L60.90,16.34 L62.70,16.32 L64.50,16.34 L66.31,16.39 L68.11,16.48 L69.91,16.60 L71.72,16.76 L73.52,16.95 L75.32,17.18 L77.12,17.44 L78.93,17.74 L80.73,18.07 L82.53,18.45 L84.34,18.85 L86.14,19.30 L87.94,19.78 L89.75,20.30 L91.55,20.86 L93.35,21.45 L95.16,22.09 L96.96,22.76 L98.76,23.48 L100.57,24.23 L102.37,25.03 L104.17,25.87 L105.98,26.75 L107.78,27.67 L109.58,28.64 L111.38,29.65 L113.19,30.70 L114.99,31.80 L116.79,32.95 L118.60,34.15 L120.40,35.39" fill="none" stroke="#8ab9df" stroke-width="2" filter="url(#b1)"/>
<g filter="url(#b05)">
<path d="M5.00,20.48 L6.80,19.67 L8.61,18.87 L10.41,18.08 L12.21,17.32 L14.02,16.57 L15.82,15.83 L17.62,15.12 L19.43,14.43 L21.23,13.76 L23.03,13.11 L24.83,12.48 L26.64,11.88 L28.44,11.30 L30.24,10.74 L32.05,10.22 L33.85,9.72 L35.65,9.24 L37.46,8.80 L39.26,8.38 L41.06,7.99 L42.87,7.63 L44.67,7.30 L46.47,7.00 L48.28,6.74 L50.08,6.50 L51.88,6.29 L53.68,6.12 L55.49,5.97 L57.29,5.86 L59.09,5.78 L60.90,5.73 L62.70,5.72 L64.50,5.73 L66.31,5.78 L68.11,5.86 L69.91,5.97 L71.72,6.12 L73.52,6.29 L75.32,6.50 L77.12,6.74 L78.93,7.00 L80.73,7.30 L82.53,7.63 L84.34,7.99 L86.14,8.38 L87.94,8.80 L89.75,9.24 L91.55,9.72 L93.35,10.22 L95.16,10.74 L96.96,11.30 L98.76,11.88 L100.57,12.48 L102.37,13.11 L104.17,13.76 L105.98,14.43 L107.78,15.12 L109.58,15.83 L111.38,16.57 L113.19,17.32 L114.99,18.08 L116.79,18.87 L118.60,19.67 L120.40,20.48 L120.40,27.32 L118.60,26.42 L116.79,25.52 L114.99,24.64 L113.19,23.77 L111.38,22.92 L109.58,22.09 L107.78,21.28 L105.98,20.49 L104.17,19.72 L102.37,18.97 L100.57,18.25 L98.76,17.55 L96.96,16.89 L95.16,16.25 L93.35,15.63 L91.55,15.05 L89.75,14.50 L87.94,13.98 L86.14,13.50 L84.34,13.04 L82.53,12.62 L80.73,12.24 L78.93,11.89 L77.12,11.57 L75.32,11.29 L73.52,11.05 L71.72,10.84 L69.91,10.68 L68.11,10.54 L66.31,10.45 L64.50,10.39 L62.70,10.38 L60.90,10.39 L59.09,10.45 L57.29,10.54 L55.49,10.68 L53.68,10.84 L51.88,11.05 L50.08,11.29 L48.28,11.57 L46.47,11.89 L44.67,12.24 L42.87,12.62 L41.06,13.04 L39.26,13.50 L37.46,13.98 L35.65,14.50 L33.85,15.05 L32.05,15.63 L30.24,16.25 L28.44,16.89 L26.64,17.55 L24.83,18.25 L23.03,18.97 L21.23,19.72 L19.43,20.49 L17.62,21.28 L15.82,22.09 L14.02,22.92 L12.21,23.77 L10.41,24.64 L8.61,25.52 L6.80,26.42 L5.00,27.32Z" fill="#d7302a"/>
<path d="M5.00,28.32 L6.80,27.42 L8.61,26.52 L10.41,25.64 L12.21,24.77 L14.02,23.92 L15.82,23.09 L17.62,22.28 L19.43,21.49 L21.23,20.72 L23.03,19.97 L24.83,19.25 L26.64,18.55 L28.44,17.89 L30.24,17.25 L32.05,16.63 L33.85,16.05 L35.65,15.50 L37.46,14.98 L39.26,14.50 L41.06,14.04 L42.87,13.62 L44.67,13.24 L46.47,12.89 L48.28,12.57 L50.08,12.29 L51.88,12.05 L53.68,11.84 L55.49,11.68 L57.29,11.54 L59.09,11.45 L60.90,11.39 L62.70,11.38 L64.50,11.39 L66.31,11.45 L68.11,11.54 L69.91,11.68 L71.72,11.84 L73.52,12.05 L75.32,12.29 L77.12,12.57 L78.93,12.89 L80.73,13.24 L82.53,13.62 L84.34,14.04 L86.14,14.50 L87.94,14.98 L89.75,15.50 L91.55,16.05 L93.35,16.63 L95.16,17.25 L96.96,17.89 L98.76,18.55 L100.57,19.25 L102.37,19.97 L104.17,20.72 L105.98,21.49 L107.78,22.28 L109.58,23.09 L111.38,23.92 L113.19,24.77 L114.99,25.64 L116.79,26.52 L118.60,27.42 L120.40,28.32 L120.40,34.59 L118.60,33.35 L116.79,32.15 L114.99,31.00 L113.19,29.90 L111.38,28.85 L109.58,27.84 L107.78,26.87 L105.98,25.95 L104.17,25.07 L102.37,24.23 L100.57,23.43 L98.76,22.68 L96.96,21.96 L95.16,21.29 L93.35,20.65 L91.55,20.06 L89.75,19.50 L87.94,18.98 L86.14,18.50 L84.34,18.05 L82.53,17.65 L80.73,17.27 L78.93,16.94 L77.12,16.64 L75.32,16.38 L73.52,16.15 L71.72,15.96 L69.91,15.80 L68.11,15.68 L66.31,15.59 L64.50,15.54 L62.70,15.52 L60.90,15.54 L59.09,15.59 L57.29,15.68 L55.49,15.80 L53.68,15.96 L51.88,16.15 L50.08,16.38 L48.28,16.64 L46.47,16.94 L44.67,17.27 L42.87,17.65 L41.06,18.05 L39.26,18.50 L37.46,18.98 L35.65,19.50 L33.85,20.06 L32.05,20.65 L30.24,21.29 L28.44,21.96 L26.64,22.68 L24.83,23.43 L23.03,24.23 L21.23,25.07 L19.43,25.95 L17.62,26.87 L15.82,27.84 L14.02,28.85 L12.21,29.90 L10.41,31.00 L8.61,32.15 L6.80,33.35 L5.00,34.59Z" fill="#2171b5"/>
<path d="M7.50,22.76 L5.00,24.55" stroke="#d7302a" stroke-width="7.54" stroke-linecap="round" fill="none"/>
<path d="M7.50,30.12 L5.00,32.11" stroke="#2171b5" stroke-width="6.17" stroke-linecap="round" fill="none"/>
<path d="M117.90,22.76 L120.40,24.55" stroke="#d7302a" stroke-width="7.54" stroke-linecap="round" fill="none"/>
<path d="M117.90,30.12 L120.40,32.11" stroke="#2171b5" stroke-width="6.17" stroke-linecap="round" fill="none"/>
</g></g></g></g>
<g clip-path="url(#cp13)"><g><g transform="translate(506.6,176.4)"><g>
<path d="M-3.00,31.94 L-0.95,30.88 L1.11,29.81 L3.16,28.76 L5.21,27.72 L7.27,26.68 L9.32,25.67 L11.37,24.67 L13.43,23.70 L15.48,22.75 L17.53,21.82 L19.58,20.92 L21.64,20.05 L23.69,19.20 L25.74,18.40 L27.80,17.62 L29.85,16.88 L31.90,16.18 L33.96,15.52 L36.01,14.90 L38.06,14.32 L40.12,13.78 L42.17,13.28 L44.22,12.83 L46.28,12.42 L48.33,12.06 L50.38,11.75 L52.43,11.48 L54.49,11.26 L56.54,11.09 L58.59,10.97 L60.65,10.90 L62.70,10.88 L64.75,10.90 L66.81,10.97 L68.86,11.09 L70.91,11.26 L72.97,11.48 L75.02,11.75 L77.07,12.06 L79.12,12.42 L81.18,12.83 L83.23,13.28 L85.28,13.78 L87.34,14.32 L89.39,14.90 L91.44,15.52 L93.50,16.18 L95.55,16.88 L97.60,17.62 L99.66,18.40 L101.71,19.20 L103.76,20.05 L105.82,20.92 L107.87,21.82 L109.92,22.75 L111.98,23.70 L114.03,24.67 L116.08,25.67 L118.13,26.68 L120.19,27.72 L122.24,28.76 L124.29,29.81 L126.35,30.88 L128.40,31.94 L128.40,130.60 L126.35,130.60 L124.29,130.60 L122.24,130.60 L120.19,130.60 L118.13,130.60 L116.08,130.60 L114.03,130.60 L111.98,130.60 L109.92,130.60 L107.87,130.60 L105.82,130.60 L103.76,130.60 L101.71,130.60 L99.66,130.60 L97.60,130.60 L95.55,130.60 L93.50,130.60 L91.44,130.60 L89.39,130.60 L87.34,130.60 L85.28,130.60 L83.23,130.60 L81.18,130.60 L79.12,130.60 L77.07,130.60 L75.02,130.60 L72.97,130.60 L70.91,130.60 L68.86,130.60 L66.81,130.60 L64.75,130.60 L62.70,130.60 L60.65,130.60 L58.59,130.60 L56.54,130.60 L54.49,130.60 L52.43,130.60 L50.38,130.60 L48.33,130.60 L46.28,130.60 L44.22,130.60 L42.17,130.60 L40.12,130.60 L38.06,130.60 L36.01,130.60 L33.96,130.60 L31.90,130.60 L29.85,130.60 L27.80,130.60 L25.74,130.60 L23.69,130.60 L21.64,130.60 L19.58,130.60 L17.53,130.60 L15.48,130.60 L13.43,130.60 L11.37,130.60 L9.32,130.60 L7.27,130.60 L5.21,130.60 L3.16,130.60 L1.11,130.60 L-0.95,130.60 L-3.00,130.60Z" fill="url(#interior)"/>
<ellipse cx="62.5" cy="22.5" rx="28" ry="7.8" fill="#c0d8ed" filter="url(#b15)"/>
</g>
<path d="M-3.00,42.92 L-0.95,41.25 L1.11,39.65 L3.16,38.11 L5.21,36.64 L7.27,35.24 L9.32,33.89 L11.37,32.61 L13.43,31.39 L15.48,30.22 L17.53,29.12 L19.58,28.07 L21.64,27.07 L23.69,26.13 L25.74,25.25 L27.80,24.41 L29.85,23.63 L31.90,22.90 L33.96,22.22 L36.01,21.59 L38.06,21.01 L40.12,20.48 L42.17,20.00 L44.22,19.56 L46.28,19.17 L48.33,18.83 L50.38,18.54 L52.43,18.29 L54.49,18.08 L56.54,17.92 L58.59,17.81 L60.65,17.74 L62.70,17.72 L64.75,17.74 L66.81,17.81 L68.86,17.92 L70.91,18.08 L72.97,18.29 L75.02,18.54 L77.07,18.83 L79.12,19.17 L81.18,19.56 L83.23,20.00 L85.28,20.48 L87.34,21.01 L89.39,21.59 L91.44,22.22 L93.50,22.90 L95.55,23.63 L97.60,24.41 L99.66,25.25 L101.71,26.13 L103.76,27.07 L105.82,28.07 L107.87,29.12 L109.92,30.22 L111.98,31.39 L114.03,32.61 L116.08,33.89 L118.13,35.24 L120.19,36.64 L122.24,38.11 L124.29,39.65 L126.35,41.25 L128.40,42.92" fill="none" stroke="#b0cfe9" stroke-width="4.5" filter="url(#b17)"/>
<path d="M-3.00,41.52 L-0.95,39.85 L1.11,38.25 L3.16,36.71 L5.21,35.24 L7.27,33.84 L9.32,32.49 L11.37,31.21 L13.43,29.99 L15.48,28.82 L17.53,27.72 L19.58,26.67 L21.64,25.67 L23.69,24.73 L25.74,23.85 L27.80,23.01 L29.85,22.23 L31.90,21.50 L33.96,20.82 L36.01,20.19 L38.06,19.61 L40.12,19.08 L42.17,18.60 L44.22,18.16 L46.28,17.77 L48.33,17.43 L50.38,17.14 L52.43,16.89 L54.49,16.68 L56.54,16.52 L58.59,16.41 L60.65,16.34 L62.70,16.32 L64.75,16.34 L66.81,16.41 L68.86,16.52 L70.91,16.68 L72.97,16.89 L75.02,17.14 L77.07,17.43 L79.12,17.77 L81.18,18.16 L83.23,18.60 L85.28,19.08 L87.34,19.61 L89.39,20.19 L91.44,20.82 L93.50,21.50 L95.55,22.23 L97.60,23.01 L99.66,23.85 L101.71,24.73 L103.76,25.67 L105.82,26.67 L107.87,27.72 L109.92,28.82 L111.98,29.99 L114.03,31.21 L116.08,32.49 L118.13,33.84 L120.19,35.24 L122.24,36.71 L124.29,38.25 L126.35,39.85 L128.40,41.52" fill="none" stroke="#8ab9df" stroke-width="2" filter="url(#b1)"/>
<g filter="url(#b05)">
<path d="M-3.00,24.22 L-0.95,23.24 L1.11,22.28 L3.16,21.32 L5.21,20.38 L7.27,19.46 L9.32,18.56 L11.37,17.67 L13.43,16.81 L15.48,15.97 L17.53,15.16 L19.58,14.37 L21.64,13.61 L23.69,12.87 L25.74,12.17 L27.80,11.50 L29.85,10.86 L31.90,10.26 L33.96,9.69 L36.01,9.15 L38.06,8.65 L40.12,8.19 L42.17,7.77 L44.22,7.38 L46.28,7.04 L48.33,6.73 L50.38,6.46 L52.43,6.23 L54.49,6.05 L56.54,5.90 L58.59,5.80 L60.65,5.74 L62.70,5.72 L64.75,5.74 L66.81,5.80 L68.86,5.90 L70.91,6.05 L72.97,6.23 L75.02,6.46 L77.07,6.73 L79.12,7.04 L81.18,7.38 L83.23,7.77 L85.28,8.19 L87.34,8.65 L89.39,9.15 L91.44,9.69 L93.50,10.26 L95.55,10.86 L97.60,11.50 L99.66,12.17 L101.71,12.87 L103.76,13.61 L105.82,14.37 L107.87,15.16 L109.92,15.97 L111.98,16.81 L114.03,17.67 L116.08,18.56 L118.13,19.46 L120.19,20.38 L122.24,21.32 L124.29,22.28 L126.35,23.24 L128.40,24.22 L128.40,31.44 L126.35,30.38 L124.29,29.31 L122.24,28.26 L120.19,27.22 L118.13,26.18 L116.08,25.17 L114.03,24.17 L111.98,23.20 L109.92,22.25 L107.87,21.32 L105.82,20.42 L103.76,19.55 L101.71,18.70 L99.66,17.90 L97.60,17.12 L95.55,16.38 L93.50,15.68 L91.44,15.02 L89.39,14.40 L87.34,13.82 L85.28,13.28 L83.23,12.78 L81.18,12.33 L79.12,11.92 L77.07,11.56 L75.02,11.25 L72.97,10.98 L70.91,10.76 L68.86,10.59 L66.81,10.47 L64.75,10.40 L62.70,10.38 L60.65,10.40 L58.59,10.47 L56.54,10.59 L54.49,10.76 L52.43,10.98 L50.38,11.25 L48.33,11.56 L46.28,11.92 L44.22,12.33 L42.17,12.78 L40.12,13.28 L38.06,13.82 L36.01,14.40 L33.96,15.02 L31.90,15.68 L29.85,16.38 L27.80,17.12 L25.74,17.90 L23.69,18.70 L21.64,19.55 L19.58,20.42 L17.53,21.32 L15.48,22.25 L13.43,23.20 L11.37,24.17 L9.32,25.17 L7.27,26.18 L5.21,27.22 L3.16,28.26 L1.11,29.31 L-0.95,30.38 L-3.00,31.44Z" fill="#d7302a"/>
<path d="M-3.00,32.44 L-0.95,31.38 L1.11,30.31 L3.16,29.26 L5.21,28.22 L7.27,27.18 L9.32,26.17 L11.37,25.17 L13.43,24.20 L15.48,23.25 L17.53,22.32 L19.58,21.42 L21.64,20.55 L23.69,19.70 L25.74,18.90 L27.80,18.12 L29.85,17.38 L31.90,16.68 L33.96,16.02 L36.01,15.40 L38.06,14.82 L40.12,14.28 L42.17,13.78 L44.22,13.33 L46.28,12.92 L48.33,12.56 L50.38,12.25 L52.43,11.98 L54.49,11.76 L56.54,11.59 L58.59,11.47 L60.65,11.40 L62.70,11.38 L64.75,11.40 L66.81,11.47 L68.86,11.59 L70.91,11.76 L72.97,11.98 L75.02,12.25 L77.07,12.56 L79.12,12.92 L81.18,13.33 L83.23,13.78 L85.28,14.28 L87.34,14.82 L89.39,15.40 L91.44,16.02 L93.50,16.68 L95.55,17.38 L97.60,18.12 L99.66,18.90 L101.71,19.70 L103.76,20.55 L105.82,21.42 L107.87,22.32 L109.92,23.25 L111.98,24.20 L114.03,25.17 L116.08,26.17 L118.13,27.18 L120.19,28.22 L122.24,29.26 L124.29,30.31 L126.35,31.38 L128.40,32.44 L128.40,40.72 L126.35,39.05 L124.29,37.45 L122.24,35.91 L120.19,34.44 L118.13,33.04 L116.08,31.69 L114.03,30.41 L111.98,29.19 L109.92,28.02 L107.87,26.92 L105.82,25.87 L103.76,24.87 L101.71,23.93 L99.66,23.05 L97.60,22.21 L95.55,21.43 L93.50,20.70 L91.44,20.02 L89.39,19.39 L87.34,18.81 L85.28,18.28 L83.23,17.80 L81.18,17.36 L79.12,16.97 L77.07,16.63 L75.02,16.34 L72.97,16.09 L70.91,15.88 L68.86,15.72 L66.81,15.61 L64.75,15.54 L62.70,15.52 L60.65,15.54 L58.59,15.61 L56.54,15.72 L54.49,15.88 L52.43,16.09 L50.38,16.34 L48.33,16.63 L46.28,16.97 L44.22,17.36 L42.17,17.80 L40.12,18.28 L38.06,18.81 L36.01,19.39 L33.96,20.02 L31.90,20.70 L29.85,21.43 L27.80,22.21 L25.74,23.05 L23.69,23.93 L21.64,24.87 L19.58,25.87 L17.53,26.92 L15.48,28.02 L13.43,29.19 L11.37,30.41 L9.32,31.69 L7.27,33.04 L5.21,34.44 L3.16,35.91 L1.11,37.45 L-0.95,39.05 L-3.00,40.72Z" fill="#2171b5"/>
</g></g></g></g>
<g clip-path="url(#cp20)"><g><g transform="translate(55.2,326.9)"><path d="M-2,-2 L127.4,-2 L127.4,9 C100,14 80,16 62.7,16 C45,16 25,14 -2,9 Z" fill="#e2edf7" filter="url(#b15)"/>
<g filter="url(#b2)">
<path d="M2,39.5 C12,38 25,37 40,36 C47,35.5 52,35 55,35 C54,37.5 50,41 46,45 C43,48 41,51 38,52 C32,52.5 26,51.5 20,50 C12,48 6,46 3,45 Z" fill="#eda9a8"/>
<path d="M123.4,39.5 C113.4,38 100.4,37 85.4,36 C78.4,35.5 73.4,35 70.4,35 C71.4,37.5 75.4,41 79.4,45 C82.4,48 84.4,51 87.4,52 C93.4,52.5 99.4,51.5 105.4,50 C113.4,48 119.4,46 122.4,45 Z" fill="#f0bcbb"/>
<path d="M61.5,37 C67,40 74,45 78,51 C79,56 78,60 75,64 C70,65 66,64.5 62.5,64.5 C58,64.5 54,65 50,64 C47,61 45.5,57 46,52 C50,46 55,41 61.5,37 Z" fill="#eb9f9e"/>
</g>
<ellipse cx="63" cy="51" rx="5.5" ry="5" fill="#f4cac9" filter="url(#b2)"/>
<g filter="url(#b2)" fill="none" stroke-width="8">
<path d="M50,59 C41,76 32,95 26,119" stroke="url(#redfade)"/><path d="M75.40,59 C84.40,76 93.40,95 99.40,119" stroke="url(#redfade)"/>
</g>
<g filter="url(#b2)" fill="none" stroke-width="7">
<path d="M56,39 C47,50 38,60 32,70 C24,84 18,100 13,118" stroke="url(#bluefade)"/><path d="M69.40,39 C78.40,50 87.40,60 93.40,70 C101.40,84 107.40,100 112.40,118" stroke="url(#bluefade)"/>
</g>
<ellipse cx="62.7" cy="77" rx="9" ry="7" fill="#e4eef7" filter="url(#b3)"/>
<g filter="url(#b1)" fill="none">
<path d="M15,3.5 C30,7.5 45,10.5 62.7,10.5 C80.4,10.5 95.4,7.5 110.4,3.5" stroke="#f3cfce" stroke-width="2.6"/>
<path d="M8,1.5 C25,9 45,14.4 62.7,14.4 C80.4,14.4 100.4,9 117.4,1.5" stroke="#8dbbe0" stroke-width="3.6"/>
</g>
<g filter="url(#b1)" fill="none">
<path d="M1,7.5 C15,13.5 30,20 44.5,26.5" stroke="#eea5a3" stroke-width="3.2"/><path d="M124.40,7.5 C110.40,13.5 95.40,20 80.90,26.5" stroke="#eea5a3" stroke-width="3.2"/>
</g>
<g filter="url(#b12)" fill="none">
<path d="M1,3.5 C20,12 40,21.5 62.7,31.5" stroke="#5b9bd0" stroke-width="5.2"/><path d="M124.40,3.5 C105.40,12 85.40,21.5 62.70,31.5" stroke="#5b9bd0" stroke-width="5.2"/>
<path d="M-2,35 C15,33.5 35,31.5 50,30.8 C56,30.6 60,30.8 62.7,31" stroke="#6ea8d7" stroke-width="5.2"/><path d="M127.40,35 C110.40,33.5 90.40,31.5 75.40,30.8 C69.40,30.6 65.40,30.8 62.70,31" stroke="#6ea8d7" stroke-width="5.2"/>
</g>
<ellipse cx="62.5" cy="31" rx="8" ry="3.6" fill="#2c79bb" filter="url(#b15)"/>
<g filter="url(#b05)">
<path d="M-2,4 C3,3.2 8,2.3 13,1.8 L16,1.8 C14,3.5 13,5.5 13,8 C9,7.5 4,7 -2,7 Z" fill="#2171b5"/><path d="M127.40,4 C122.40,3.2 117.40,2.3 112.40,1.8 L109.40,1.8 C111.40,3.5 112.40,5.5 112.40,8 C116.40,7.5 121.40,7 127.40,7 Z" fill="#2171b5"/>
<path d="M-2,-2 L10.5,-2 L10,1.3 C7,2.3 3,3.3 -2,4.2 Z" fill="#d7302a"/><path d="M127.40,-2 L114.90,-2 L115.40,1.3 C118.40,2.3 122.40,3.3 127.40,4.2 Z" fill="#d7302a"/>
</g></g></g></g>
<g clip-path="url(#cp21)"><g><g transform="translate(205.7,326.9)"><path d="M-2,-2 L127.4,-2 L127.4,12 C100,18 80,20 62.7,20 C45,20 25,18 -2,12 Z" fill="#e8f1f9" filter="url(#b2)"/>
<g filter="url(#b3)">
<ellipse cx="18" cy="56" rx="11" ry="12" fill="#e6eff8"/><ellipse cx="107.40" cy="56" rx="11" ry="12" fill="#e6eff8"/>
<ellipse cx="62.7" cy="72" rx="16" ry="11" fill="#e4eef7"/>
</g>
<g filter="url(#b2)" fill="none">
<path d="M36,46 C31,56 24,72 19,88 C16,98 14,106 12,114" stroke="url(#bluefade2)" stroke-width="8"/><path d="M89.40,46 C94.40,56 101.40,72 106.40,88 C109.40,98 111.40,106 113.40,114" stroke="url(#bluefade2)" stroke-width="8"/>
<path d="M58,39 C50,49 42,57 38,63 C33,72 29.5,85 27.6,93 C25.5,103 22.5,110 20.3,116" stroke="url(#redfade2)" stroke-width="7.5"/><path d="M67.40,39 C75.40,49 83.40,57 87.40,63 C92.40,72 95.90,85 97.80,93 C99.90,103 102.90,110 105.10,116" stroke="url(#redfade2)" stroke-width="7.5"/>
</g>
<g filter="url(#b15)" fill="none">
<path d="M7,32.6 C30,32.4 95,32.4 118.4,32.6" stroke="#d8e7f4" stroke-width="4.2"/>
<path d="M8,40 C30,39.4 95,39.4 117.4,40" stroke="#f7d7d6" stroke-width="5.5"/>
<ellipse cx="62.7" cy="39" rx="10" ry="3.5" fill="#f4cdcc" stroke="none"/>
<path d="M6,6.5 C18,12 33,19 48,26.5" stroke="#efbcbb" stroke-width="3"/><path d="M119.40,6.5 C107.40,12 92.40,19 77.40,26.5" stroke="#efbcbb" stroke-width="3"/>
<path d="M46,25.5 C52,28.5 58,31.5 66,35.5" stroke="#f7dcdb" stroke-width="3"/><path d="M79.40,25.5 C73.40,28.5 67.40,31.5 59.40,35.5" stroke="#f7dcdb" stroke-width="3"/>
<path d="M14,4.5 C20,6.5 26,9.5 32,13" stroke="#a6c9e6" stroke-width="4.5"/><path d="M111.40,4.5 C105.40,6.5 99.40,9.5 93.40,13" stroke="#a6c9e6" stroke-width="4.5"/>
</g>
<g filter="url(#b05)" fill="none">
<path d="M3.2,7.5 C3.5,4.5 6,2.8 9.5,2.8 C13,3 16.5,4.3 20,6.2" stroke="#2474b6" stroke-width="3.4"/><path d="M122.20,7.5 C121.90,4.5 119.40,2.8 115.90,2.8 C112.40,3 108.90,4.3 105.40,6.2" stroke="#2474b6" stroke-width="3.4"/>
</g></g></g></g>
<g clip-path="url(#cp22)"><g><g transform="translate(356.2,326.9)"><g clip-path="url(#cppml)">
<ellipse cx="62.7" cy="2" rx="76" ry="75" fill="url(#bowl)" filter="url(#b2)"/>
<rect x="-4" y="2.5" width="134" height="20" fill="url(#topstrip)" filter="url(#b15)"/>
<g filter="url(#b12)" fill="none">
<path d="M2.8,8 C3.5,6 5.5,5 11,5" stroke="#4a8dc7" stroke-width="3.6"/><path d="M122.60,8 C121.90,6 119.90,5 114.40,5" stroke="#4a8dc7" stroke-width="3.6"/>
</g>
</g></g></g></g>
<g clip-path="url(#cp23)"><g><g transform="translate(506.6,326.9)"><ellipse cx="62.7" cy="2" rx="76" ry="75" fill="url(#bowl)" filter="url(#b2)"/>
<rect x="-4" y="-2" width="134" height="22" fill="url(#topstrip)" filter="url(#b15)"/>
<g filter="url(#b05)">
<path d="M-2,-2 L10,-2 L10,0.6 C7,2 4,3.2 -2,4.6 Z" fill="#d7302a"/><path d="M127.40,-2 L115.40,-2 L115.40,0.6 C118.40,2 121.40,3.2 127.40,4.6 Z" fill="#d7302a"/>
</g>
<g filter="url(#b05)" fill="none">
<path d="M-1,6.6 C3,5.2 8,3.3 12,2 C15,1.3 18,0.9 22,0.6" stroke="#2171b5" stroke-width="3"/><path d="M126.40,6.6 C122.40,5.2 117.40,3.3 113.40,2 C110.40,1.3 107.40,0.9 103.40,0.6" stroke="#2171b5" stroke-width="3"/>
</g></g></g></g>
<rect x="55.2" y="25.9" width="125.4" height="125.6" fill="none" stroke="#111" stroke-width="1.75"/>
<rect x="211.97" y="32.17" width="112.86" height="113.06" fill="none" stroke="#3a3a3a" stroke-width="1.0" stroke-dasharray="1.2 3.15"/>
<rect x="205.7" y="25.9" width="125.4" height="125.6" fill="none" stroke="#111" stroke-width="1.75"/>
<rect x="362.47" y="32.17" width="112.86" height="113.06" fill="none" stroke="#3a3a3a" stroke-width="1.0" stroke-dasharray="1.2 3.15"/>
<rect x="356.2" y="25.9" width="125.4" height="125.6" fill="none" stroke="#111" stroke-width="1.75"/>
<rect x="506.6" y="25.9" width="125.4" height="125.6" fill="none" stroke="#111" stroke-width="1.75"/>
<rect x="55.2" y="176.4" width="125.4" height="125.6" fill="none" stroke="#111" stroke-width="1.75"/>
<rect x="211.97" y="182.67" width="112.86" height="113.06" fill="none" stroke="#3a3a3a" stroke-width="1.0" stroke-dasharray="1.2 3.15"/>
<rect x="205.7" y="176.4" width="125.4" height="125.6" fill="none" stroke="#111" stroke-width="1.75"/>
<rect x="362.47" y="182.67" width="112.86" height="113.06" fill="none" stroke="#3a3a3a" stroke-width="1.0" stroke-dasharray="1.2 3.15"/>
<rect x="356.2" y="176.4" width="125.4" height="125.6" fill="none" stroke="#111" stroke-width="1.75"/>
<rect x="506.6" y="176.4" width="125.4" height="125.6" fill="none" stroke="#111" stroke-width="1.75"/>
<rect x="55.2" y="326.9" width="125.4" height="125.6" fill="none" stroke="#111" stroke-width="1.75"/>
<rect x="211.97" y="333.17" width="112.86" height="113.06" fill="none" stroke="#3a3a3a" stroke-width="1.0" stroke-dasharray="1.2 3.15"/>
<rect x="205.7" y="326.9" width="125.4" height="125.6" fill="none" stroke="#111" stroke-width="1.75"/>
<rect x="362.47" y="333.17" width="112.86" height="113.06" fill="none" stroke="#3a3a3a" stroke-width="1.0" stroke-dasharray="1.2 3.15"/>
<rect x="356.2" y="326.9" width="125.4" height="125.6" fill="none" stroke="#111" stroke-width="1.75"/>
<rect x="506.6" y="326.9" width="125.4" height="125.6" fill="none" stroke="#111" stroke-width="1.75"/>
<path d="M55.20,25.90v-4.7M55.20,151.50v4.7M55.20,151.50h-4.7M180.60,151.50h4.7M86.55,25.90v-2.3M86.55,151.50v2.3M55.20,120.10h-2.3M180.60,120.10h2.3M117.90,25.90v-4.7M117.90,151.50v4.7M55.20,88.70h-4.7M180.60,88.70h4.7M149.25,25.90v-2.3M149.25,151.50v2.3M55.20,57.30h-2.3M180.60,57.30h2.3M180.60,25.90v-4.7M180.60,151.50v4.7M55.20,25.90h-4.7M180.60,25.90h4.7M205.70,25.90v-4.7M205.70,151.50v4.7M205.70,151.50h-4.7M331.10,151.50h4.7M237.05,25.90v-2.3M237.05,151.50v2.3M205.70,120.10h-2.3M331.10,120.10h2.3M268.40,25.90v-4.7M268.40,151.50v4.7M205.70,88.70h-4.7M331.10,88.70h4.7M299.75,25.90v-2.3M299.75,151.50v2.3M205.70,57.30h-2.3M331.10,57.30h2.3M331.10,25.90v-4.7M331.10,151.50v4.7M205.70,25.90h-4.7M331.10,25.90h4.7M356.20,25.90v-4.7M356.20,151.50v4.7M356.20,151.50h-4.7M481.60,151.50h4.7M387.55,25.90v-2.3M387.55,151.50v2.3M356.20,120.10h-2.3M481.60,120.10h2.3M418.90,25.90v-4.7M418.90,151.50v4.7M356.20,88.70h-4.7M481.60,88.70h4.7M450.25,25.90v-2.3M450.25,151.50v2.3M356.20,57.30h-2.3M481.60,57.30h2.3M481.60,25.90v-4.7M481.60,151.50v4.7M356.20,25.90h-4.7M481.60,25.90h4.7M506.60,25.90v-4.7M506.60,151.50v4.7M506.60,151.50h-4.7M632.00,151.50h4.7M537.95,25.90v-2.3M537.95,151.50v2.3M506.60,120.10h-2.3M632.00,120.10h2.3M569.30,25.90v-4.7M569.30,151.50v4.7M506.60,88.70h-4.7M632.00,88.70h4.7M600.65,25.90v-2.3M600.65,151.50v2.3M506.60,57.30h-2.3M632.00,57.30h2.3M632.00,25.90v-4.7M632.00,151.50v4.7M506.60,25.90h-4.7M632.00,25.90h4.7M55.20,176.40v-4.7M55.20,302.00v4.7M55.20,302.00h-4.7M180.60,302.00h4.7M86.55,176.40v-2.3M86.55,302.00v2.3M55.20,270.60h-2.3M180.60,270.60h2.3M117.90,176.40v-4.7M117.90,302.00v4.7M55.20,239.20h-4.7M180.60,239.20h4.7M149.25,176.40v-2.3M149.25,302.00v2.3M55.20,207.80h-2.3M180.60,207.80h2.3M180.60,176.40v-4.7M180.60,302.00v4.7M55.20,176.40h-4.7M180.60,176.40h4.7M205.70,176.40v-4.7M205.70,302.00v4.7M205.70,302.00h-4.7M331.10,302.00h4.7M237.05,176.40v-2.3M237.05,302.00v2.3M205.70,270.60h-2.3M331.10,270.60h2.3M268.40,176.40v-4.7M268.40,302.00v4.7M205.70,239.20h-4.7M331.10,239.20h4.7M299.75,176.40v-2.3M299.75,302.00v2.3M205.70,207.80h-2.3M331.10,207.80h2.3M331.10,176.40v-4.7M331.10,302.00v4.7M205.70,176.40h-4.7M331.10,176.40h4.7M356.20,176.40v-4.7M356.20,302.00v4.7M356.20,302.00h-4.7M481.60,302.00h4.7M387.55,176.40v-2.3M387.55,302.00v2.3M356.20,270.60h-2.3M481.60,270.60h2.3M418.90,176.40v-4.7M418.90,302.00v4.7M356.20,239.20h-4.7M481.60,239.20h4.7M450.25,176.40v-2.3M450.25,302.00v2.3M356.20,207.80h-2.3M481.60,207.80h2.3M481.60,176.40v-4.7M481.60,302.00v4.7M356.20,176.40h-4.7M481.60,176.40h4.7M506.60,176.40v-4.7M506.60,302.00v4.7M506.60,302.00h-4.7M632.00,302.00h4.7M537.95,176.40v-2.3M537.95,302.00v2.3M506.60,270.60h-2.3M632.00,270.60h2.3M569.30,176.40v-4.7M569.30,302.00v4.7M506.60,239.20h-4.7M632.00,239.20h4.7M600.65,176.40v-2.3M600.65,302.00v2.3M506.60,207.80h-2.3M632.00,207.80h2.3M632.00,176.40v-4.7M632.00,302.00v4.7M506.60,176.40h-4.7M632.00,176.40h4.7M55.20,326.90v-4.7M55.20,452.50v4.7M55.20,452.50h-4.7M180.60,452.50h4.7M86.55,326.90v-2.3M86.55,452.50v2.3M55.20,421.10h-2.3M180.60,421.10h2.3M117.90,326.90v-4.7M117.90,452.50v4.7M55.20,389.70h-4.7M180.60,389.70h4.7M149.25,326.90v-2.3M149.25,452.50v2.3M55.20,358.30h-2.3M180.60,358.30h2.3M180.60,326.90v-4.7M180.60,452.50v4.7M55.20,326.90h-4.7M180.60,326.90h4.7M205.70,326.90v-4.7M205.70,452.50v4.7M205.70,452.50h-4.7M331.10,452.50h4.7M237.05,326.90v-2.3M237.05,452.50v2.3M205.70,421.10h-2.3M331.10,421.10h2.3M268.40,326.90v-4.7M268.40,452.50v4.7M205.70,389.70h-4.7M331.10,389.70h4.7M299.75,326.90v-2.3M299.75,452.50v2.3M205.70,358.30h-2.3M331.10,358.30h2.3M331.10,326.90v-4.7M331.10,452.50v4.7M205.70,326.90h-4.7M331.10,326.90h4.7M356.20,326.90v-4.7M356.20,452.50v4.7M356.20,452.50h-4.7M481.60,452.50h4.7M387.55,326.90v-2.3M387.55,452.50v2.3M356.20,421.10h-2.3M481.60,421.10h2.3M418.90,326.90v-4.7M418.90,452.50v4.7M356.20,389.70h-4.7M481.60,389.70h4.7M450.25,326.90v-2.3M450.25,452.50v2.3M356.20,358.30h-2.3M481.60,358.30h2.3M481.60,326.90v-4.7M481.60,452.50v4.7M356.20,326.90h-4.7M481.60,326.90h4.7M506.60,326.90v-4.7M506.60,452.50v4.7M506.60,452.50h-4.7M632.00,452.50h4.7M537.95,326.90v-2.3M537.95,452.50v2.3M506.60,421.10h-2.3M632.00,421.10h2.3M569.30,326.90v-4.7M569.30,452.50v4.7M506.60,389.70h-4.7M632.00,389.70h4.7M600.65,326.90v-2.3M600.65,452.50v2.3M506.60,358.30h-2.3M632.00,358.30h2.3M632.00,326.90v-4.7M632.00,452.50v4.7M506.60,326.90h-4.7M632.00,326.90h4.7" stroke="#222" stroke-width="1" fill="none"/>
<rect x="656.9" y="201.0" width="7.40" height="251.60" fill="url(#cbg)"/>
<path d="M656.9,201.0 L660.60,196.4 L664.3,201.0 Z" fill="#d7302a"/>
<path d="M656.9,452.6 L660.60,457.20000000000005 L664.3,452.6 Z" fill="#2171b5"/>
<path d="M656.9,201.00H668.3M656.9,226.16H668.3M656.9,251.32H668.3M656.9,276.48H668.3M656.9,301.64H668.3M656.9,326.80H668.3M656.9,351.96H668.3M656.9,377.12H668.3M656.9,402.28H668.3M656.9,427.44H668.3M656.9,452.60H668.3" stroke="#222" stroke-width="0.9" fill="none" opacity="0.85"/>
<path d="M656.9,201.0 L660.60,196.4 L664.3,201.0 L664.3,452.6 L660.60,457.20000000000005 L656.9,452.6 Z" fill="none" stroke="#000" stroke-width="1.5" stroke-linejoin="miter"/>
<g font-family='"Liberation Sans", sans-serif' fill="#000" stroke="#000" stroke-width="0.22"><text x="63.6" y="13.4" font-weight="bold" font-size="14.5">a One–way</text>
<text x="214.1" y="13.4" font-weight="bold" font-size="14.5">b Sponge</text>
<text x="364.59999999999997" y="13.4" font-weight="bold" font-size="14.5">c PML</text>
<text x="515.0" y="13.4" font-weight="bold" font-size="14.5">d Reference</text>
<text x="55.20" y="167.70" text-anchor="middle" font-size="10.5">0</text>
<text x="117.90" y="167.70" text-anchor="middle" font-size="10.5">100</text>
<text x="180.60" y="167.70" text-anchor="middle" font-size="10.5">200</text>
<text x="205.70" y="167.70" text-anchor="middle" font-size="10.5">0</text>
<text x="268.40" y="167.70" text-anchor="middle" font-size="10.5">100</text>
<text x="331.10" y="167.70" text-anchor="middle" font-size="10.5">200</text>
<text x="356.20" y="167.70" text-anchor="middle" font-size="10.5">0</text>
<text x="418.90" y="167.70" text-anchor="middle" font-size="10.5">100</text>
<text x="481.60" y="167.70" text-anchor="middle" font-size="10.5">200</text>
<text x="506.60" y="167.70" text-anchor="middle" font-size="10.5">0</text>
<text x="569.30" y="167.70" text-anchor="middle" font-size="10.5">100</text>
<text x="632.00" y="167.70" text-anchor="middle" font-size="10.5">200</text>
<text x="46.5" y="155.55" text-anchor="end" font-size="10.5">0</text>
<text x="46.5" y="92.75" text-anchor="end" font-size="10.5">100</text>
<text x="46.5" y="29.95" text-anchor="end" font-size="10.5">200</text>
<text transform="translate(10.1,88.70) rotate(-90)" text-anchor="middle" font-weight="bold" font-size="10.6">t = 400 [s]</text>
<text transform="translate(23.8,89.50) rotate(-90)" text-anchor="middle" font-size="11.6">y [km]</text>
<text x="55.20" y="318.20" text-anchor="middle" font-size="10.5">0</text>
<text x="117.90" y="318.20" text-anchor="middle" font-size="10.5">100</text>
<text x="180.60" y="318.20" text-anchor="middle" font-size="10.5">200</text>
<text x="205.70" y="318.20" text-anchor="middle" font-size="10.5">0</text>
<text x="268.40" y="318.20" text-anchor="middle" font-size="10.5">100</text>
<text x="331.10" y="318.20" text-anchor="middle" font-size="10.5">200</text>
<text x="356.20" y="318.20" text-anchor="middle" font-size="10.5">0</text>
<text x="418.90" y="318.20" text-anchor="middle" font-size="10.5">100</text>
<text x="481.60" y="318.20" text-anchor="middle" font-size="10.5">200</text>
<text x="506.60" y="318.20" text-anchor="middle" font-size="10.5">0</text>
<text x="569.30" y="318.20" text-anchor="middle" font-size="10.5">100</text>
<text x="632.00" y="318.20" text-anchor="middle" font-size="10.5">200</text>
<text x="46.5" y="306.05" text-anchor="end" font-size="10.5">0</text>
<text x="46.5" y="243.25" text-anchor="end" font-size="10.5">100</text>
<text x="46.5" y="180.45" text-anchor="end" font-size="10.5">200</text>
<text transform="translate(10.1,239.20) rotate(-90)" text-anchor="middle" font-weight="bold" font-size="10.6">t = 800 [s]</text>
<text transform="translate(23.8,240.00) rotate(-90)" text-anchor="middle" font-size="11.6">y [km]</text>
<text x="55.20" y="468.70" text-anchor="middle" font-size="10.5">0</text>
<text x="117.90" y="468.70" text-anchor="middle" font-size="10.5">100</text>
<text x="180.60" y="468.70" text-anchor="middle" font-size="10.5">200</text>
<text x="205.70" y="468.70" text-anchor="middle" font-size="10.5">0</text>
<text x="268.40" y="468.70" text-anchor="middle" font-size="10.5">100</text>
<text x="331.10" y="468.70" text-anchor="middle" font-size="10.5">200</text>
<text x="356.20" y="468.70" text-anchor="middle" font-size="10.5">0</text>
<text x="418.90" y="468.70" text-anchor="middle" font-size="10.5">100</text>
<text x="481.60" y="468.70" text-anchor="middle" font-size="10.5">200</text>
<text x="506.60" y="468.70" text-anchor="middle" font-size="10.5">0</text>
<text x="569.30" y="468.70" text-anchor="middle" font-size="10.5">100</text>
<text x="632.00" y="468.70" text-anchor="middle" font-size="10.5">200</text>
<text x="46.5" y="456.55" text-anchor="end" font-size="10.5">0</text>
<text x="46.5" y="393.75" text-anchor="end" font-size="10.5">100</text>
<text x="46.5" y="330.95" text-anchor="end" font-size="10.5">200</text>
<text transform="translate(10.1,389.70) rotate(-90)" text-anchor="middle" font-weight="bold" font-size="10.6">t = 1300 [s]</text>
<text transform="translate(23.8,390.50) rotate(-90)" text-anchor="middle" font-size="11.6">y [km]</text>
<text x="117.90" y="481" text-anchor="middle" font-size="11.6">x [km]</text>
<text x="268.40" y="481" text-anchor="middle" font-size="11.6">x [km]</text>
<text x="418.90" y="481" text-anchor="middle" font-size="11.6">x [km]</text>
<text x="569.30" y="481" text-anchor="middle" font-size="11.6">x [km]</text>
<text x="684.2" y="204.50" text-anchor="end" font-size="9.6">5</text>
<text x="684.2" y="229.66" text-anchor="end" font-size="9.6">4</text>
<text x="684.2" y="254.82" text-anchor="end" font-size="9.6">3</text>
<text x="684.2" y="279.98" text-anchor="end" font-size="9.6">2</text>
<text x="684.2" y="305.14" text-anchor="end" font-size="9.6">1</text>
<text x="684.2" y="330.30" text-anchor="end" font-size="9.6">0</text>
<text x="684.2" y="355.46" text-anchor="end" font-size="9.6">−1</text>
<text x="684.2" y="380.62" text-anchor="end" font-size="9.6">−2</text>
<text x="684.2" y="405.78" text-anchor="end" font-size="9.6">−3</text>
<text x="684.2" y="430.94" text-anchor="end" font-size="9.6">−4</text>
<text x="684.2" y="456.10" text-anchor="end" font-size="9.6">−5</text>
<text x="660.6" y="193" text-anchor="middle" font-size="10.5">η [cm]</text></g>
</svg>
</body></html>
